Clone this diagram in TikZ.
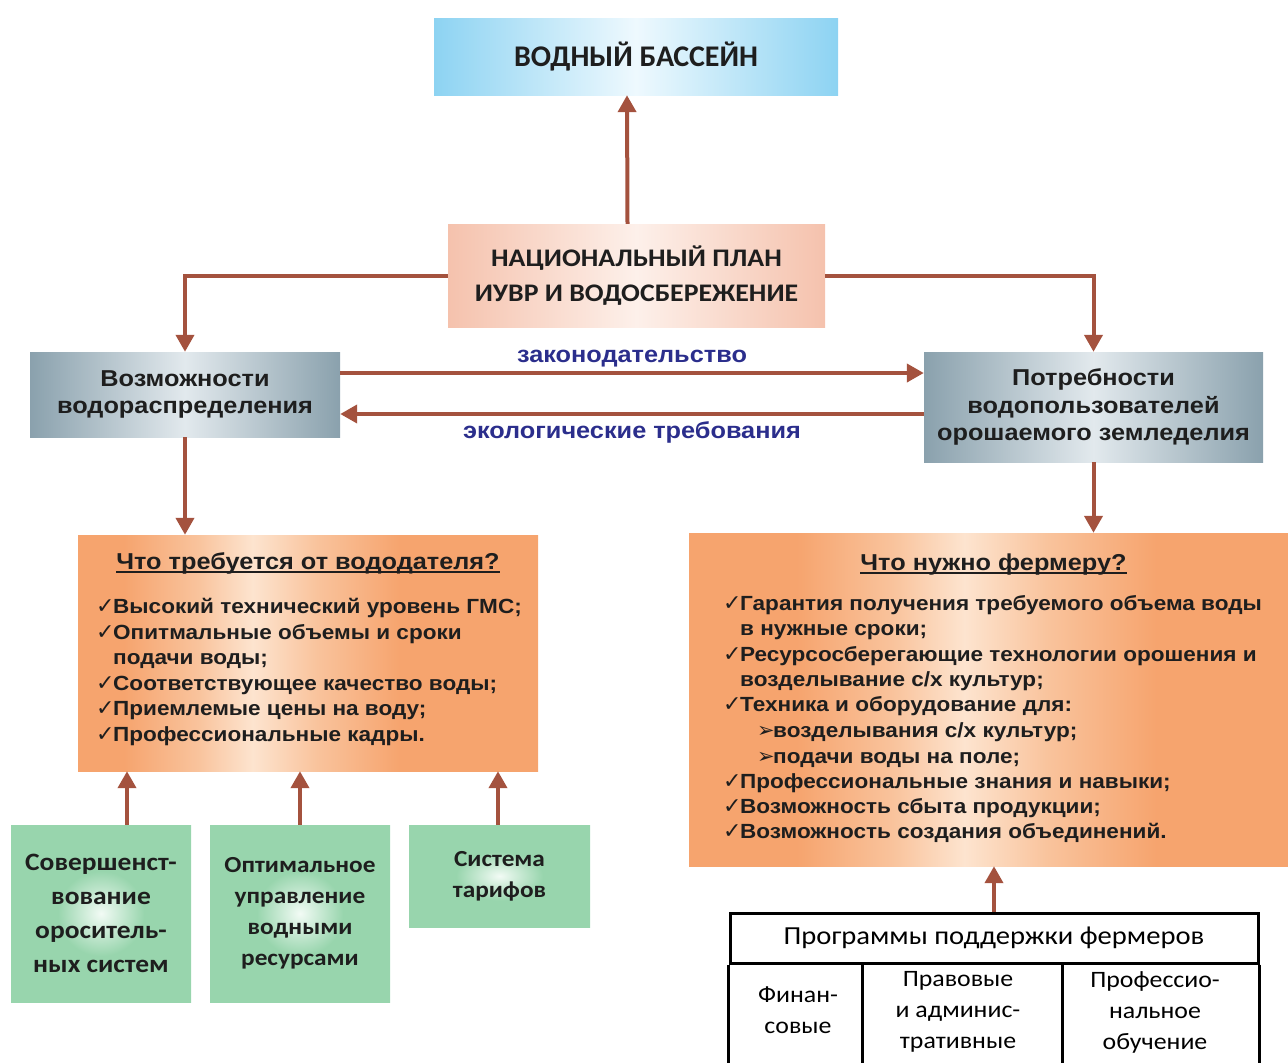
\documentclass[tikz,border=0pt]{standalone}
\usepackage{fontspec}
\setmainfont[FakeStretch=1.1]{Liberation Sans}
\newfontfamily\calfont{Carlito}
\newfontfamily\calst[FakeStretch=1.1]{Carlito}
\newfontfamily\dvfont{DejaVu Sans}
\usetikzlibrary{arrows.meta,calc}

\definecolor{arr}{HTML}{A4523E}
\definecolor{lblue}{HTML}{2B2E8C}
\definecolor{txt}{HTML}{1E1E1E}
\definecolor{bl}{HTML}{8DD3F2}
\definecolor{blL}{HTML}{EEF9FE}
\definecolor{pe}{HTML}{F5C2AD}
\definecolor{peL}{HTML}{FDF0EA}
\definecolor{gr}{HTML}{8AA1AD}
\definecolor{grL}{HTML}{E2E9ED}
\definecolor{orD}{HTML}{F6A46E}
\definecolor{orM}{HTML}{F9C39C}
\definecolor{orL}{HTML}{FDE4CF}
\definecolor{gnD}{HTML}{98D5AD}
\definecolor{gnL}{HTML}{F2FBF5}

\pgfdeclarehorizontalshading{orshL}{100bp}{color(0bp)=(orD); color(30bp)=(orD); color(38bp)=(orM); color(44bp)=(orL); color(51bp)=(orM); color(60bp)=(orD); color(100bp)=(orD)}
\pgfdeclarehorizontalshading{orshR}{100bp}{color(0bp)=(orD); color(34bp)=(orD); color(42bp)=(orM); color(48bp)=(orL); color(55bp)=(orM); color(64bp)=(orD); color(100bp)=(orD)}
\pgfdeclareradialshading{gnsh}{\pgfpoint{0bp}{0bp}}{color(0bp)=(gnL); color(12bp)=(gnD); color(50bp)=(gnD)}

\newcommand\ck{\makebox[17pt][l]{\dvfont\fontsize{22}{22}\selectfont ✓}}
\newcommand\tri{\makebox[16pt][l]{\dvfont\fontsize{21}{21}\selectfont ➢}}

\tikzset{
  conn/.style={draw=arr, line width=4pt, -{Triangle[width=18pt,length=17pt]}},
  box/.style={inner sep=0pt, align=center, text=txt},
  bluebox/.style={box, left color=bl, right color=bl, middle color=blL, font=\calfont\bfseries\fontsize{30}{34}\selectfont},
  planbox/.style={box, left color=pe, right color=pe, middle color=peL, font=\calst\bfseries\fontsize{25.3}{35}\selectfont},
  graybox/.style={box, left color=gr, right color=gr, middle color=grL, font=\bfseries\fontsize{23}{27.5}\selectfont},
  gnbox/.style={box, shading=gnsh, font=\calst\bfseries\fontsize{23}{31}\selectfont},
  lbl/.style={inner sep=0pt, text=lblue, font=\bfseries\fontsize{23}{26}\selectfont},
  item/.style={inner sep=0pt, anchor=base west, text=txt, font=\bfseries\fontsize{20.5}{25}\selectfont},
  head/.style={inner sep=0pt, anchor=base, text=txt, font=\bfseries\fontsize{23}{26}\selectfont},
  uline/.style={draw=txt, line width=1.6pt},
  tabline/.style={draw=black, line width=3pt},
  cell/.style={inner sep=0pt, align=center, text=black, font=\calst\fontsize{23.5}{31}\selectfont}
}

\begin{document}
\begin{tikzpicture}[x=1pt,y=-1pt]
\path[use as bounding box] (0,0) rectangle (1288,1063);

% main boxes
\node[bluebox, minimum width=404pt, minimum height=77pt] (basin) at (636,56.5) {ВОДНЫЙ БАССЕЙН};
\node[planbox, minimum width=377pt, minimum height=103pt] (plan) at (636.5,275.5) {НАЦИОНАЛЬНЫЙ ПЛАН\\ИУВР И ВОДОСБЕРЕЖЕНИЕ};
\node[graybox, minimum width=310pt, minimum height=85pt] (vozm) at (185,394.5) {Возможности\\водораспределения};
\node[graybox, minimum width=339pt, minimum height=110pt] (potr) at (1093.5,407) {Потребности\\водопользователей\\орошаемого земледелия};

\node[box, shading=orshL, minimum width=460pt, minimum height=236pt] (orl) at (308,653) {};
\node[box, shading=orshR, minimum width=599pt, minimum height=333pt] (orr) at (988.5,699.5) {};

\node[gnbox, font=\calst\bfseries\fontsize{25}{34}\selectfont, minimum width=180pt, minimum height=177pt] (g1) at (101,913.5) {Совершенст-\\вование\\ороситель-\\ных систем};
\node[gnbox, minimum width=180pt, minimum height=177pt] (g2) at (300,913.5) {Оптимальное\\управление\\водными\\ресурсами};
\node[gnbox, minimum width=181pt, minimum height=102pt] (g3) at (499.5,876) {Система\\тарифов};

% labels of horizontal arrows
\node[lbl] (lz) at (632,359) {законодательство};
\node[lbl] (le) at (632,432) {экологические требования};

% left orange content
\node[head] (hl) at (308,569) {Что требуется от вододателя?};
\draw[uline] ([yshift=-3pt]hl.base west) -- ([yshift=-3pt]hl.base east);
\node[item] (a1) at (96,613) {\ck Высокий технический уровень ГМС;};
\node[item] (a2) at (96,639) {\ck Опитмальные объемы и сроки};
\node[item] (a3) at (96,664) {\hspace*{17pt}подачи воды;};
\node[item] (a4) at (96,690) {\ck Соответствующее качество воды;};
\node[item] (a5) at (96,715) {\ck Приемлемые цены на воду;};
\node[item] (a6) at (96,741) {\ck Профессиональные кадры.};

% right orange content
\node[head] (hr) at (993.5,570) {Что нужно фермеру?};
\draw[uline] ([yshift=-3pt]hr.base west) -- ([yshift=-3pt]hr.base east);
\node[item] (b1) at (723,610) {\ck Гарантия получения требуемого объема воды};
\node[item] (b2) at (723,635) {\hspace*{17pt}в нужные сроки;};
\node[item] (b3) at (723,661) {\ck Ресурсосберегающие технологии орошения и};
\node[item] (b4) at (723,686) {\hspace*{17pt}возделывание с/х культур;};
\node[item] (b5) at (723,711) {\ck Техника и оборудование для:};
\node[item] (b6) at (757,737) {\tri возделывания с/х культур;};
\node[item] (b7) at (757,763) {\tri подачи воды на поле;};
\node[item] (b8) at (723,788) {\ck Профессиональные знания и навыки;};
\node[item] (b9) at (723,813) {\ck Возможность сбыта продукции;};
\node[item] (b10) at (723,838) {\ck Возможность создания объединений.};

% table
\node[tabline, inner sep=0pt, minimum width=528pt, minimum height=50pt, text=black, font=\calst\fontsize{26}{30}\selectfont] (th) at (994,938) {Программы поддержки фермеров};
\coordinate (bot) at (0,1085);
\coordinate (c1) at (862,963);
\coordinate (c2) at (1062,963);
\draw[tabline] (th.south west) -- (th.south west |- bot);
\draw[tabline] (th.south east) -- (th.south east |- bot);
\draw[tabline] (c1) -- (c1 |- bot);
\draw[tabline] (c2) -- (c2 |- bot);
\node[cell] (t1) at (798,1010) {Финан-\\совые};
\node[cell] (t2) at (958,1011.5) {Правовые\\и админис-\\тративные};
\node[cell] (t3) at (1155,1012) {Профессио-\\нальное\\обучение};

% connectors
\draw[conn] ([xshift=-9pt]plan.north) -- ([xshift=-9pt]basin.south);
\draw[conn] (plan.west) -| (vozm.north);
\draw[conn] (plan.east) -| (potr.north);
\draw[conn] ([yshift=21.5pt]vozm.east) -- ([yshift=21.5pt]vozm.east -| potr.west);
\draw[conn] ([yshift=-19.5pt]vozm.east -| potr.west) -- ([yshift=-19.5pt]vozm.east);
\draw[conn] (vozm.south) -- (vozm.south |- orl.north);
\draw[conn] (potr.south) -- (potr.south |- orr.north);
\draw[conn] ([xshift=26pt]g1.north) -- ([xshift=26pt]g1.north |- orl.south);
\draw[conn] (g2.north) -- (g2.north |- orl.south);
\draw[conn] ([xshift=-1.5pt]g3.north) -- ([xshift=-1.5pt]g3.north |- orl.south);
\draw[conn] (th.north) -- (th.north |- orr.south);
\end{tikzpicture}
\end{document}
